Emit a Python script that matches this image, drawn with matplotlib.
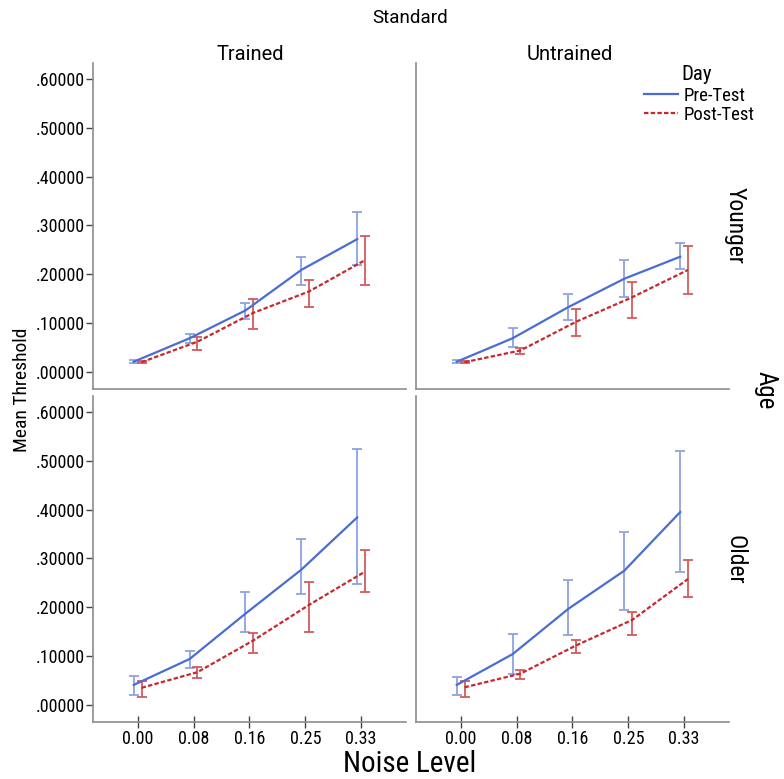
import numpy as np
import matplotlib
matplotlib.use("Agg")
import matplotlib.pyplot as plt
from matplotlib.lines import Line2D
from matplotlib import font_manager

noise_levels = ["0.00", "0.08", "0.16", "0.25", "0.33"]

# mean thresholds with lower / upper error bar ends, per panel
younger_trained_pre = [0.021, 0.069, 0.126, 0.209, 0.272]
younger_trained_pre_lo = [0.018, 0.060, 0.108, 0.178, 0.219]
younger_trained_pre_hi = [0.024, 0.078, 0.142, 0.236, 0.328]
younger_trained_post = [0.020, 0.062, 0.121, 0.165, 0.229]
younger_trained_post_lo = [0.018, 0.045, 0.088, 0.133, 0.178]
younger_trained_post_hi = [0.023, 0.072, 0.150, 0.188, 0.279]

younger_untrained_pre = [0.021, 0.069, 0.133, 0.191, 0.236]
younger_untrained_pre_lo = [0.018, 0.052, 0.107, 0.153, 0.210]
younger_untrained_pre_hi = [0.024, 0.090, 0.160, 0.230, 0.265]
younger_untrained_post = [0.020, 0.044, 0.103, 0.153, 0.209]
younger_untrained_post_lo = [0.018, 0.037, 0.074, 0.111, 0.160]
younger_untrained_post_hi = [0.023, 0.049, 0.129, 0.184, 0.258]

older_trained_pre = [0.041, 0.094, 0.187, 0.277, 0.384]
older_trained_pre_lo = [0.021, 0.075, 0.149, 0.227, 0.247]
older_trained_pre_hi = [0.059, 0.111, 0.231, 0.339, 0.524]
older_trained_post = [0.035, 0.067, 0.132, 0.205, 0.273]
older_trained_post_lo = [0.016, 0.055, 0.107, 0.149, 0.231]
older_trained_post_hi = [0.048, 0.077, 0.148, 0.251, 0.318]

older_untrained_pre = [0.041, 0.104, 0.197, 0.275, 0.395]
older_untrained_pre_lo = [0.021, 0.064, 0.143, 0.195, 0.273]
older_untrained_pre_hi = [0.057, 0.146, 0.256, 0.355, 0.520]
older_untrained_post = [0.036, 0.064, 0.122, 0.174, 0.258]
older_untrained_post_lo = [0.016, 0.053, 0.106, 0.143, 0.221]
older_untrained_post_hi = [0.049, 0.072, 0.133, 0.191, 0.296]

pre_line = "#4a6cd4"
pre_err = "#8ea2e2"
post_line = "#c8282c"
post_err = "#d35a5e"
axis_gray = "#8c8c8c"

# pick a condensed face if one is installed
installed = {f.name: f for f in font_manager.fontManager.ttflist}
narrow_kw = {"family": "DejaVu Sans", "stretch": "condensed"}
for name in ["Liberation Sans Narrow", "Roboto Condensed", "Open Sans Condensed"]:
    if name in installed:
        narrow_kw = {"family": name}
        break
plain = ["Roboto", "DejaVu Sans"]


def narrow(size):
    return font_manager.FontProperties(size=size, **narrow_kw)


fig = plt.figure(figsize=(7.84, 7.79), dpi=100)

cols = [0.1186, 0.5306]
rows = [0.5006, 0.0732]
w = 0.399
h = 0.418

panels = [
    [(younger_trained_pre, younger_trained_pre_lo, younger_trained_pre_hi,
      younger_trained_post, younger_trained_post_lo, younger_trained_post_hi),
     (younger_untrained_pre, younger_untrained_pre_lo, younger_untrained_pre_hi,
      younger_untrained_post, younger_untrained_post_lo, younger_untrained_post_hi)],
    [(older_trained_pre, older_trained_pre_lo, older_trained_pre_hi,
      older_trained_post, older_trained_post_lo, older_trained_post_hi),
     (older_untrained_pre, older_untrained_pre_lo, older_untrained_pre_hi,
      older_untrained_post, older_untrained_post_lo, older_untrained_post_hi)],
]

x = np.arange(len(noise_levels))
dx = 0.07
yticks = np.arange(0, 0.61, 0.1)

for r in range(2):
    for c in range(2):
        ax = fig.add_axes([cols[c], rows[r], w, h])
        pre, pre_lo, pre_hi, post, post_lo, post_hi = [np.array(v) for v in panels[r][c]]

        ax.errorbar(x - dx, pre, yerr=[pre - pre_lo, pre_hi - pre], fmt="none",
                    ecolor=pre_err, elinewidth=1.3, capsize=3.5, capthick=1.3)
        ax.errorbar(x + dx, post, yerr=[post - post_lo, post_hi - post], fmt="none",
                    ecolor=post_err, elinewidth=1.3, capsize=3.5, capthick=1.3)
        ax.plot(x - dx, pre, color=pre_line, lw=1.6)
        ax.plot(x + dx, post, color=post_line, lw=1.6, dashes=(2, 1))

        ax.set_xlim(-0.8, 4.8)
        ax.set_ylim(-0.035, 0.632)
        for s in ["top", "right"]:
            ax.spines[s].set_visible(False)
        for s in ["left", "bottom"]:
            ax.spines[s].set_color(axis_gray)
            ax.spines[s].set_linewidth(1.2)

        ax.set_yticks(yticks)
        ax.set_xticks(x)
        if c == 0:
            ax.set_yticklabels([("%.5f" % v)[1:] for v in yticks])
            ax.tick_params(axis="y", length=5, width=1, color="#444444", pad=1)
        else:
            ax.tick_params(axis="y", left=False, labelleft=False)
        if r == 1:
            ax.set_xticklabels(noise_levels)
            ax.tick_params(axis="x", direction="inout", length=8, width=1,
                           color="#444444", pad=2)
        else:
            ax.tick_params(axis="x", bottom=False, labelbottom=False)
        for lab in ax.get_xticklabels() + ax.get_yticklabels():
            lab.set_fontproperties(narrow(13))

fig.text(0.523, 0.977, "Standard", ha="center", va="center", fontsize=13.5, family=plain)
fig.text(0.319, 0.930, "Trained", ha="center", va="center", fontsize=14.5, family=plain)
fig.text(0.727, 0.930, "Untrained", ha="center", va="center", fontsize=14.5, family=plain)
fig.text(0.938, 0.711, "Younger", ha="center", va="center", rotation=-90,
         fontproperties=narrow(17))
fig.text(0.938, 0.281, "Older", ha="center", va="center", rotation=-90,
         fontproperties=narrow(17))
fig.text(0.977, 0.499, "Age", ha="center", va="center", rotation=-90,
         fontproperties=narrow(18))
fig.text(0.028, 0.499, "Mean Threshold", ha="center", va="center", rotation=90,
         fontproperties=narrow(14))
fig.text(0.523, 0.019, "Noise Level", ha="center", va="center",
         fontproperties=narrow(21))

# legend: title drawn separately so the entries can sit a bit lower
fig.text(0.888, 0.904, "Day", ha="center", va="center", fontproperties=narrow(15))
handles = [Line2D([], [], color=pre_line, lw=1.6),
           Line2D([], [], color=post_line, lw=1.6, dashes=(2, 1))]
fig.legend(handles, ["Pre-Test", "Post-Test"],
           loc="center left", bbox_to_anchor=(0.822, 0.865), frameon=False,
           handlelength=1.8, handletextpad=0.3, labelspacing=0.05,
           prop=narrow(13.5), borderaxespad=0, borderpad=0)

fig.savefig("out.png", dpi=100)
